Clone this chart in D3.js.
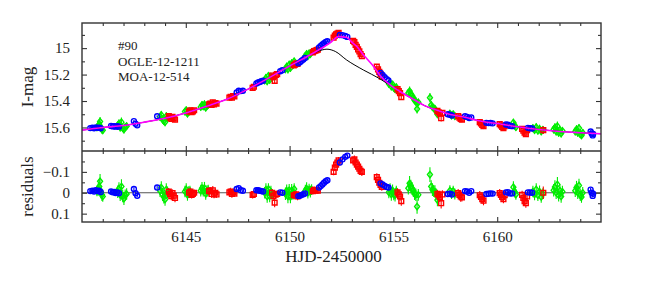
<!DOCTYPE html>
<html>
<head>
<meta charset="utf-8">
<script src="https://cdn.jsdelivr.net/npm/d3@7"></script>
<style>
body { margin: 0; background: #fff; }
svg text { font-family: "Liberation Serif", "Times New Roman", serif; fill: #222; }
</style>
</head>
<body>
<svg id="chart" width="664" height="285"></svg>
<script>
// best-fit model (magenta) and single-lens model (black)
var modelT   = [6140, 6141, 6142, 6143, 6144, 6145, 6146, 6147, 6148, 6149, 6150, 6150.5, 6151, 6151.5, 6152, 6152.35, 6152.75, 6153, 6153.25, 6153.5, 6154, 6154.35, 6154.85, 6155.3, 6155.5, 6156, 6156.5, 6157, 6157.5, 6158, 6158.5, 6159, 6159.5, 6160, 6161, 6162, 6163, 6164, 6165];
var modelMag = [15.62, 15.60, 15.585, 15.56, 15.53, 15.49, 15.44, 15.385, 15.31, 15.225, 15.135, 15.093, 15.05, 15.005, 14.955, 14.913, 14.918, 14.955, 14.99, 15.04, 15.13, 15.205, 15.28, 15.326, 15.345, 15.39, 15.435, 15.465, 15.49, 15.51, 15.525, 15.545, 15.56, 15.57, 15.595, 15.615, 15.63, 15.64, 15.648];
var singleT   = [6140, 6141, 6142, 6143, 6144, 6145, 6146, 6147, 6148, 6149, 6150, 6150.5, 6151, 6151.4, 6151.8, 6152.2, 6152.75, 6153.55, 6154.35, 6154.85, 6155.3, 6155.5, 6156, 6156.5, 6157, 6157.5, 6158, 6158.5, 6159, 6159.5, 6160, 6161, 6162, 6163, 6164, 6165];
var singleMag = [15.62, 15.60, 15.585, 15.56, 15.53, 15.49, 15.44, 15.385, 15.31, 15.225, 15.135, 15.093, 15.05, 15.022, 15.008, 15.025, 15.09, 15.165, 15.232, 15.283, 15.326, 15.345, 15.39, 15.435, 15.465, 15.49, 15.51, 15.525, 15.545, 15.56, 15.57, 15.595, 15.615, 15.63, 15.64, 15.648];

// rows: [HJD-2450000, I mag, residual, error]
var blueCirc = [
  [6140.40, 15.605, -0.008, 0.006], [6140.50, 15.602, -0.010, 0.006], [6140.58, 15.606, -0.006, 0.006], [6140.66, 15.600, -0.012, 0.006],
  [6140.74, 15.603, -0.008, 0.006], [6140.82, 15.601, -0.010, 0.006], [6140.90, 15.606, -0.004, 0.006],
  [6141.40, 15.588, -0.006, 0.006], [6141.48, 15.592, -0.002, 0.006], [6141.55, 15.590, -0.004, 0.006], [6141.62, 15.594, 0.001, 0.006],
  [6141.70, 15.591, -0.002, 0.006], [6141.78, 15.594, 0.002, 0.006],
  [6142.50, 15.552, -0.018, 0.008], [6142.58, 15.572, 0.002, 0.008], [6142.66, 15.584, 0.014, 0.008],
  [6143.62, 15.515, -0.025, 0.008],
  [6147.45, 15.335, -0.018, 0.006], [6147.55, 15.322, -0.022, 0.006], [6147.65, 15.325, -0.012, 0.006], [6147.75, 15.322, -0.010, 0.006],
  [6148.40, 15.268, -0.012, 0.006], [6148.48, 15.260, -0.012, 0.006], [6148.56, 15.256, -0.010, 0.006], [6148.64, 15.250, -0.008, 0.006], [6148.72, 15.246, -0.006, 0.006],
  [6149.55, 15.175, -0.002, 0.006], [6149.65, 15.167, 0.000, 0.006],
  [6150.42, 15.115, 0.016, 0.006], [6150.50, 15.107, 0.014, 0.006], [6150.58, 15.096, 0.010, 0.006], [6150.66, 15.086, 0.007, 0.006], [6150.74, 15.075, 0.003, 0.006],
  [6151.42, 14.995, -0.025, 0.006], [6151.50, 14.984, -0.032, 0.006], [6151.58, 14.973, -0.040, 0.006], [6151.66, 14.963, -0.048, 0.006],
  [6151.74, 14.954, -0.055, 0.006], [6151.82, 14.948, -0.060, 0.006],
  [6152.42, 14.901, -0.145, 0.006], [6152.55, 14.902, -0.160, 0.006], [6152.68, 14.908, -0.172, 0.006], [6152.78, 14.915, -0.178, 0.006],
  [6154.38, 15.188, -0.045, 0.006], [6154.48, 15.203, -0.040, 0.006], [6154.58, 15.220, -0.033, 0.006], [6154.68, 15.235, -0.028, 0.006], [6154.76, 15.245, -0.025, 0.006],
  [6157.62, 15.500, 0.006, 0.006], [6157.72, 15.504, 0.004, 0.006], [6157.82, 15.510, 0.008, 0.006],
  [6158.45, 15.515, -0.008, 0.006], [6158.55, 15.520, -0.006, 0.006], [6158.65, 15.528, 0.000, 0.006], [6158.75, 15.524, -0.008, 0.006],
  [6159.48, 15.565, 0.006, 0.006], [6159.58, 15.567, 0.005, 0.006], [6159.68, 15.566, 0.003, 0.006], [6159.78, 15.569, 0.004, 0.006],
  [6160.42, 15.578, -0.002, 0.006], [6160.52, 15.580, -0.003, 0.006], [6160.62, 15.588, 0.003, 0.006], [6160.72, 15.590, 0.003, 0.006],
  [6161.48, 15.603, -0.002, 0.006], [6161.58, 15.606, -0.001, 0.006], [6161.68, 15.608, 0.000, 0.006],
  [6164.50, 15.630, -0.015, 0.008], [6164.55, 15.645, 0.000, 0.008], [6164.60, 15.660, 0.015, 0.008], [6164.62, 15.650, 0.005, 0.008]
];

var greenDiam = [
  [6140.72, 15.600, -0.008, 0.025], [6140.78, 15.590, -0.016, 0.030], [6140.83, 15.575, -0.030, 0.035], [6140.87, 15.555, -0.055, 0.035],
  [6140.92, 15.605, -0.002, 0.030], [6140.96, 15.615, 0.010, 0.030], [6141.00, 15.622, 0.018, 0.025],
  [6141.72, 15.585, -0.005, 0.030], [6141.78, 15.570, -0.020, 0.030], [6141.84, 15.600, 0.010, 0.030], [6141.90, 15.560, -0.030, 0.035],
  [6141.96, 15.605, 0.016, 0.030], [6142.02, 15.615, 0.028, 0.030], [6142.08, 15.598, 0.012, 0.028], [6142.15, 15.590, 0.006, 0.028],
  [6143.76, 15.520, -0.010, 0.030], [6143.82, 15.505, -0.025, 0.030], [6143.88, 15.540, 0.008, 0.032], [6143.94, 15.550, 0.020, 0.032],
  [6144.00, 15.560, 0.032, 0.030], [6144.06, 15.515, -0.015, 0.030], [6144.12, 15.525, -0.002, 0.028],
  [6144.96, 15.480, -0.006, 0.028], [6145.02, 15.470, -0.016, 0.030], [6145.08, 15.495, 0.010, 0.028], [6145.14, 15.482, -0.003, 0.028], [6145.20, 15.476, -0.008, 0.026],
  [6145.72, 15.445, -0.010, 0.028], [6145.78, 15.430, -0.022, 0.030], [6145.84, 15.440, -0.010, 0.028], [6145.90, 15.425, -0.022, 0.030],
  [6145.96, 15.450, 0.005, 0.028], [6146.02, 15.435, -0.008, 0.028], [6146.08, 15.428, -0.012, 0.026],
  [6148.80, 15.245, 0.000, 0.028], [6148.86, 15.225, -0.015, 0.030], [6148.92, 15.250, 0.018, 0.030], [6148.98, 15.210, -0.018, 0.028],
  [6149.04, 15.240, 0.016, 0.030], [6149.10, 15.215, -0.005, 0.028], [6149.15, 15.225, 0.008, 0.026],
  [6149.80, 15.160, 0.005, 0.030], [6149.86, 15.140, -0.010, 0.030], [6149.92, 15.160, 0.018, 0.032], [6149.98, 15.125, -0.012, 0.030],
  [6150.04, 15.150, 0.020, 0.030], [6150.10, 15.115, -0.012, 0.030], [6150.16, 15.128, 0.005, 0.028], [6150.22, 15.100, -0.018, 0.028],
  [6150.76, 15.060, -0.010, 0.028], [6150.82, 15.045, -0.020, 0.030], [6150.88, 15.060, 0.000, 0.028], [6150.94, 15.040, -0.015, 0.028],
  [6151.00, 15.045, -0.005, 0.028], [6151.06, 15.030, -0.015, 0.026],
  [6154.78, 15.270, -0.002, 0.028], [6154.84, 15.262, -0.015, 0.030], [6154.90, 15.290, 0.008, 0.030], [6154.96, 15.275, -0.012, 0.028],
  [6155.02, 15.300, 0.008, 0.028], [6155.08, 15.310, 0.012, 0.030], [6155.14, 15.295, -0.008, 0.026],
  [6155.72, 15.340, -0.022, 0.030], [6155.78, 15.325, -0.045, 0.035], [6155.84, 15.345, -0.030, 0.032], [6155.90, 15.360, -0.020, 0.030],
  [6155.96, 15.375, -0.010, 0.030], [6156.02, 15.395, 0.005, 0.030], [6156.08, 15.405, 0.010, 0.030], [6156.14, 15.460, 0.066, 0.035], [6156.20, 15.410, 0.010, 0.028],
  [6156.76, 15.375, -0.087, 0.035], [6156.82, 15.430, -0.030, 0.030], [6156.88, 15.445, -0.015, 0.030], [6156.94, 15.455, -0.008, 0.028],
  [6157.00, 15.460, -0.006, 0.030], [6157.06, 15.475, 0.008, 0.028], [6157.12, 15.500, 0.035, 0.030],
  [6157.72, 15.495, -0.010, 0.026], [6157.80, 15.510, 0.004, 0.026], [6157.88, 15.500, -0.008, 0.026], [6157.96, 15.515, 0.006, 0.026],
  [6160.78, 15.563, -0.027, 0.028], [6160.84, 15.585, -0.005, 0.028], [6160.90, 15.598, 0.008, 0.026],
  [6161.72, 15.605, -0.006, 0.028], [6161.80, 15.620, 0.008, 0.028], [6161.88, 15.598, -0.016, 0.030], [6161.96, 15.625, 0.012, 0.028],
  [6162.04, 15.610, -0.005, 0.030], [6162.12, 15.630, 0.020, 0.028], [6162.20, 15.618, 0.004, 0.026],
  [6162.72, 15.615, -0.012, 0.030], [6162.78, 15.600, -0.028, 0.032], [6162.84, 15.630, 0.000, 0.030], [6162.90, 15.590, -0.040, 0.035],
  [6162.96, 15.640, 0.012, 0.030], [6163.02, 15.620, -0.010, 0.030], [6163.08, 15.645, 0.018, 0.030], [6163.14, 15.625, -0.005, 0.028],
  [6163.76, 15.630, -0.010, 0.030], [6163.82, 15.615, -0.025, 0.032], [6163.88, 15.640, 0.000, 0.030], [6163.94, 15.605, -0.035, 0.032],
  [6164.00, 15.650, 0.010, 0.030], [6164.06, 15.660, 0.020, 0.028], [6164.12, 15.640, 0.000, 0.028]
];

var redSq = [
  [6144.18, 15.515, -0.005, 0.018], [6144.24, 15.525, 0.006, 0.018], [6144.30, 15.535, 0.016, 0.020], [6144.36, 15.520, 0.002, 0.018],
  [6144.42, 15.530, 0.014, 0.018], [6144.48, 15.540, 0.025, 0.020],
  [6145.16, 15.480, 0.000, 0.018], [6145.22, 15.470, -0.006, 0.018], [6145.28, 15.485, 0.010, 0.018], [6145.34, 15.478, 0.005, 0.018], [6145.40, 15.470, 0.000, 0.016],
  [6146.12, 15.425, -0.008, 0.018], [6146.18, 15.420, -0.010, 0.018], [6146.24, 15.430, 0.006, 0.018], [6146.30, 15.410, -0.012, 0.020],
  [6146.36, 15.425, 0.008, 0.018], [6146.42, 15.415, 0.000, 0.018], [6146.48, 15.420, 0.008, 0.016],
  [6147.10, 15.375, -0.002, 0.018], [6147.16, 15.368, -0.006, 0.018], [6147.22, 15.375, 0.006, 0.018], [6147.28, 15.362, -0.002, 0.018], [6147.34, 15.365, 0.004, 0.016],
  [6148.22, 15.300, 0.010, 0.018], [6148.28, 15.292, 0.006, 0.018],
  [6149.16, 15.207, 0.000, 0.018], [6149.22, 15.220, 0.015, 0.018], [6149.28, 15.247, 0.047, 0.022], [6149.34, 15.203, 0.008, 0.018], [6149.40, 15.196, 0.006, 0.018],
  [6150.20, 15.130, 0.012, 0.018], [6150.26, 15.125, 0.012, 0.018], [6150.32, 15.115, 0.008, 0.018], [6150.38, 15.120, 0.018, 0.018],
  [6151.12, 15.032, -0.008, 0.016], [6151.18, 15.022, -0.014, 0.016], [6151.24, 15.020, -0.012, 0.016], [6151.30, 15.015, -0.012, 0.016], [6151.36, 15.012, -0.010, 0.016],
  [6152.12, 14.920, -0.100, 0.016], [6152.18, 14.905, -0.120, 0.016], [6152.24, 14.895, -0.135, 0.016], [6152.30, 14.890, -0.145, 0.016], [6152.36, 14.885, -0.155, 0.016],
  [6153.06, 14.945, -0.155, 0.018], [6153.12, 14.955, -0.160, 0.018], [6153.18, 14.975, -0.145, 0.018], [6153.24, 14.990, -0.135, 0.018],
  [6153.30, 15.010, -0.125, 0.018], [6153.36, 15.025, -0.115, 0.018], [6153.42, 15.045, -0.105, 0.018], [6153.48, 15.060, -0.100, 0.020],
  [6154.20, 15.140, -0.075, 0.018], [6154.26, 15.160, -0.062, 0.018], [6154.32, 15.180, -0.048, 0.018], [6154.38, 15.195, -0.038, 0.018], [6154.44, 15.215, -0.028, 0.018],
  [6155.20, 15.310, -0.002, 0.020], [6155.26, 15.325, 0.008, 0.020], [6155.32, 15.340, 0.018, 0.020], [6155.38, 15.370, 0.040, 0.022],
  [6157.12, 15.475, 0.005, 0.020], [6157.18, 15.485, 0.012, 0.020], [6157.24, 15.495, 0.020, 0.022], [6157.30, 15.530, 0.050, 0.025], [6157.36, 15.490, 0.008, 0.020],
  [6158.12, 15.515, 0.002, 0.020], [6158.18, 15.525, 0.010, 0.022], [6158.24, 15.535, 0.018, 0.025], [6158.30, 15.540, 0.022, 0.020],
  [6159.16, 15.560, 0.012, 0.020], [6159.22, 15.570, 0.020, 0.020], [6159.28, 15.580, 0.030, 0.022], [6159.34, 15.590, 0.038, 0.022],
  [6160.12, 15.575, 0.002, 0.020], [6160.18, 15.585, 0.010, 0.022], [6160.24, 15.595, 0.020, 0.022], [6160.30, 15.605, 0.030, 0.020], [6160.36, 15.590, 0.012, 0.020],
  [6161.20, 15.610, 0.010, 0.020], [6161.26, 15.625, 0.025, 0.022], [6161.32, 15.640, 0.040, 0.022], [6161.38, 15.650, 0.050, 0.022], [6161.44, 15.620, 0.018, 0.020],
  [6162.22, 15.620, 0.000, 0.030]
];

var xMajor = [6145, 6150, 6155, 6160];
var magMajor = [15, 15.2, 15.4, 15.6];
var magMinor = [14.9, 15.1, 15.3, 15.5, 15.7];
var resMajor = [-0.1, 0, 0.1];
var resMinor = [-0.15, -0.05, 0.05];
var labels = ["#90", "OGLE-12-1211", "MOA-12-514"];

var svg = d3.select("#chart");
var left = 82, right = 601, top1 = 23, bot1 = 151, bot2 = 222;
var axisCol = "#333";

var x = d3.scaleLinear().domain([6140, 6165]).range([left, right]);
var yMag = d3.scaleLinear().domain([14.81, 15.778]).range([top1, bot1]);
var yRes = d3.scaleLinear().domain([-0.2, 0.14]).range([bot1, bot2]);
var xMinor = d3.range(6141, 6165).filter(function(d) { return d % 5 !== 0; });

var defs = svg.append("defs");
defs.append("clipPath").attr("id", "clipTop").append("rect")
  .attr("x", left).attr("y", top1).attr("width", right - left).attr("height", bot1 - top1);
defs.append("clipPath").attr("id", "clipBot").append("rect")
  .attr("x", left).attr("y", bot1).attr("width", right - left).attr("height", bot2 - bot1);

function styleAxis(g) {
  g.select(".domain").remove();
  g.selectAll(".tick line").attr("stroke", axisCol).attr("stroke-width", 1.1);
  g.selectAll("text").attr("font-size", 15).attr("fill", "#222")
    .attr("font-family", "'Liberation Serif', 'Times New Roman', serif");
}

function drawAxes(yScale, y0, y1, yMaj, yMin, yFmt, xLabels) {
  // bottom + top, major and minor
  svg.append("g").attr("transform", "translate(0," + y1 + ")")
    .call(d3.axisBottom(x).tickValues(xMajor).tickSize(-5).tickSizeOuter(0).tickPadding(9)
      .tickFormat(xLabels ? d3.format("d") : ""))
    .call(styleAxis);
  svg.append("g").attr("transform", "translate(0," + y1 + ")")
    .call(d3.axisBottom(x).tickValues(xMinor).tickSize(-3).tickSizeOuter(0).tickFormat(""))
    .call(styleAxis);
  svg.append("g").attr("transform", "translate(0," + y0 + ")")
    .call(d3.axisTop(x).tickValues(xMajor).tickSize(-5).tickSizeOuter(0).tickFormat(""))
    .call(styleAxis);
  svg.append("g").attr("transform", "translate(0," + y0 + ")")
    .call(d3.axisTop(x).tickValues(xMinor).tickSize(-3).tickSizeOuter(0).tickFormat(""))
    .call(styleAxis);
  // left + right
  svg.append("g").attr("transform", "translate(" + left + ",0)")
    .call(d3.axisLeft(yScale).tickValues(yMaj).tickSize(-5).tickSizeOuter(0).tickPadding(12).tickFormat(yFmt))
    .call(styleAxis);
  svg.append("g").attr("transform", "translate(" + left + ",0)")
    .call(d3.axisLeft(yScale).tickValues(yMin).tickSize(-3).tickSizeOuter(0).tickFormat(""))
    .call(styleAxis);
  svg.append("g").attr("transform", "translate(" + right + ",0)")
    .call(d3.axisRight(yScale).tickValues(yMaj).tickSize(-5).tickSizeOuter(0).tickFormat(""))
    .call(styleAxis);
  svg.append("g").attr("transform", "translate(" + right + ",0)")
    .call(d3.axisRight(yScale).tickValues(yMin).tickSize(-3).tickSizeOuter(0).tickFormat(""))
    .call(styleAxis);
}

function drawPoints(g, data, yScale, col, shape) {
  var grp = g.append("g");
  grp.selectAll("line.err").data(data).enter().append("line")
    .attr("x1", function(d) { return x(d[0]); })
    .attr("x2", function(d) { return x(d[0]); })
    .attr("y1", function(d) { return yScale(d.v - d[3]); })
    .attr("y2", function(d) { return yScale(d.v + d[3]); })
    .attr("stroke", col).attr("stroke-width", 1.1);
  grp.selectAll("path.pt").data(data).enter().append("path")
    .attr("fill", "none").attr("stroke", col).attr("stroke-width", 1.4)
    .attr("transform", function(d) { return "translate(" + x(d[0]) + "," + yScale(d.v) + ")"; })
    .attr("d", shape);
}

var circle = "M2.5,0A2.5,2.5 0 1,1 -2.5,0A2.5,2.5 0 1,1 2.5,0Z";
var square = "M-2.4,-2.4H2.4V2.4H-2.4Z";
var diamond = "M0,-3.2L2.5,0L0,3.2L-2.5,0Z";

function withVal(data, idx) {
  return data.map(function(r) { var o = r.slice(); o.v = r[idx]; return o; });
}

// top panel
var gTop = svg.append("g").attr("clip-path", "url(#clipTop)");
drawPoints(gTop, withVal(greenDiam, 1), yMag, "#00ee00", diamond);
drawPoints(gTop, withVal(redSq, 1), yMag, "#ff0000", square);
drawPoints(gTop, withVal(blueCirc, 1), yMag, "#0000ff", circle);

var lineSingle = d3.line().x(function(d, i) { return x(singleT[i]); }).y(function(d) { return yMag(d); }).curve(d3.curveMonotoneX);
var lineModel = d3.line().x(function(d, i) { return x(modelT[i]); }).y(function(d) { return yMag(d); }).curve(d3.curveMonotoneX);
gTop.append("path").attr("d", lineSingle(singleMag)).attr("fill", "none").attr("stroke", "#000").attr("stroke-width", 1);
gTop.append("path").attr("d", lineModel(modelMag)).attr("fill", "none").attr("stroke", "#ff00ff").attr("stroke-width", 1.6);

// bottom panel
var gBot = svg.append("g").attr("clip-path", "url(#clipBot)");
gBot.append("line").attr("x1", left).attr("x2", right).attr("y1", yRes(0)).attr("y2", yRes(0))
  .attr("stroke", "#555").attr("stroke-width", 1);
drawPoints(gBot, withVal(greenDiam, 2), yRes, "#00ee00", diamond);
drawPoints(gBot, withVal(redSq, 2), yRes, "#ff0000", square);
drawPoints(gBot, withVal(blueCirc, 2), yRes, "#0000ff", circle);

// frames and ticks
drawAxes(yMag, top1, bot1, magMajor, magMinor, function(d) { return d === 15 ? "15" : d3.format(".1f")(d); }, false);
drawAxes(yRes, bot1, bot2, resMajor, resMinor, function(d) { return d === 0 ? "0" : d3.format(".1f")(d); }, true);
svg.append("rect").attr("x", left).attr("y", top1).attr("width", right - left).attr("height", bot2 - top1)
  .attr("fill", "none").attr("stroke", axisCol).attr("stroke-width", 1.4);
svg.append("line").attr("x1", left).attr("x2", right).attr("y1", bot1).attr("y2", bot1)
  .attr("stroke", axisCol).attr("stroke-width", 1.4);

// labels
svg.append("text").attr("transform", "translate(33," + ((top1 + bot1) / 2) + ") rotate(-90)")
  .attr("text-anchor", "middle").attr("font-size", 17).text("I-mag");
svg.append("text").attr("transform", "translate(33," + ((bot1 + bot2) / 2) + ") rotate(-90)")
  .attr("text-anchor", "middle").attr("font-size", 17).text("residuals");
svg.append("text").attr("x", (left + right) / 2 - 8).attr("y", 262)
  .attr("text-anchor", "middle").attr("font-size", 17).text("HJD-2450000");

svg.selectAll("text.lab").data(labels).enter().append("text")
  .attr("class", "lab")
  .attr("x", 118).attr("y", function(d, i) { return 50 + i * 15.7; })
  .attr("font-size", 13).text(function(d) { return d; });
</script>
</body>
</html>
